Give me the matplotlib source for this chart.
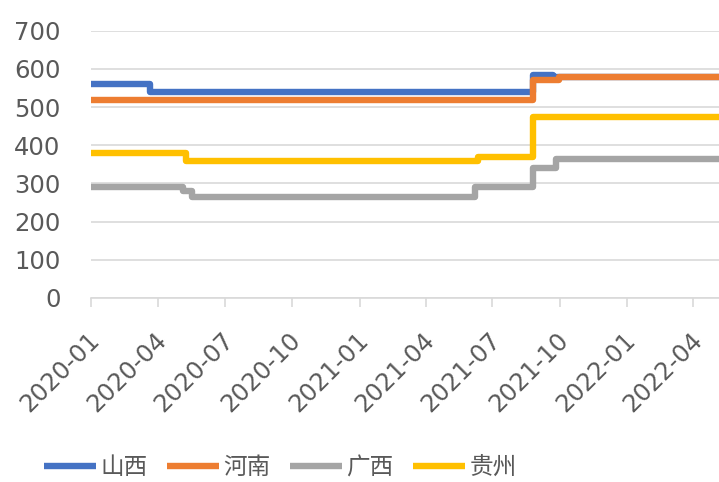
import matplotlib.pyplot as plt
import matplotlib.dates as mdates
import matplotlib.transforms as mtransforms
import pandas as pd

plt.rcParams['font.family'] = ['DejaVu Sans', 'Noto Sans CJK SC']

# change dates and price levels (step series)
shanxi_dates = ['2020-01-01', '2020-03-22', '2021-08-25', '2021-09-22', '2022-05-06']
shanxi_vals = [560, 540, 585, 580, 580]

henan_dates = ['2020-01-01', '2021-08-25', '2021-09-30', '2022-05-06']
henan_vals = [520, 570, 580, 580]

guangxi_dates = ['2020-01-01', '2020-05-05', '2020-05-18', '2021-06-07',
                 '2021-08-25', '2021-09-26', '2022-05-06']
guangxi_vals = [290, 280, 265, 290, 340, 365, 365]

guizhou_dates = ['2020-01-01', '2020-05-10', '2021-06-11', '2021-08-25', '2022-05-06']
guizhou_vals = [380, 360, 370, 475, 475]

names = ['山西', '河南', '广西', '贵州']
colors = ['#4472C4', '#ED7D31', '#A5A5A5', '#FFC000']
tick_dates = ['2020-01', '2020-04', '2020-07', '2020-10', '2021-01',
              '2021-04', '2021-07', '2021-10', '2022-01', '2022-04']

fig = plt.figure(figsize=(7.19, 4.82), dpi=100)
ax = fig.add_axes([0.1266, 0.382, 0.8734, 0.554])

series = [(shanxi_dates, shanxi_vals), (henan_dates, henan_vals),
          (guangxi_dates, guangxi_vals), (guizhou_dates, guizhou_vals)]
for (d, v), name, c in zip(series, names, colors):
    ax.plot(pd.to_datetime(d), v, drawstyle='steps-post', color=c,
            lw=4.6, label=name, solid_capstyle='butt')

ax.set_ylim(0, 700)
ax.set_yticks(range(0, 701, 100))
ax.set_xlim(pd.Timestamp('2020-01-01'), pd.Timestamp('2022-05-06'))
ax.set_xticks(pd.to_datetime(tick_dates))
ax.xaxis.set_major_formatter(mdates.DateFormatter('%Y-%m'))

ax.grid(axis='y', color='#D9D9D9', lw=1.2)
ax.set_axisbelow(True)
for s in ['top', 'right', 'left']:
    ax.spines[s].set_visible(False)
ax.spines['bottom'].set_color('#D9D9D9')
ax.spines['bottom'].set_linewidth(1.2)

ax.tick_params(axis='y', length=0, pad=22, labelsize=17.5, labelcolor='#595959')
ax.tick_params(axis='x', length=6.5, width=1.2, color='#D9D9D9', pad=21,
               labelsize=17.5, labelcolor='#595959')
shift = mtransforms.ScaledTranslation(5 / 100, 0, fig.dpi_scale_trans)
for lab in ax.get_xticklabels():
    lab.set_rotation(45)
    lab.set_ha('right')
    lab.set_va('center')
    lab.set_rotation_mode('anchor')
    lab.set_transform(lab.get_transform() + shift)

fig.legend(loc='center', bbox_to_anchor=(0.39, 0.031), ncol=4, frameon=False,
           fontsize=17, handlelength=2.2, handletextpad=0.2, columnspacing=0.8,
           labelcolor='#595959')

fig.savefig('out.png', dpi=100)
